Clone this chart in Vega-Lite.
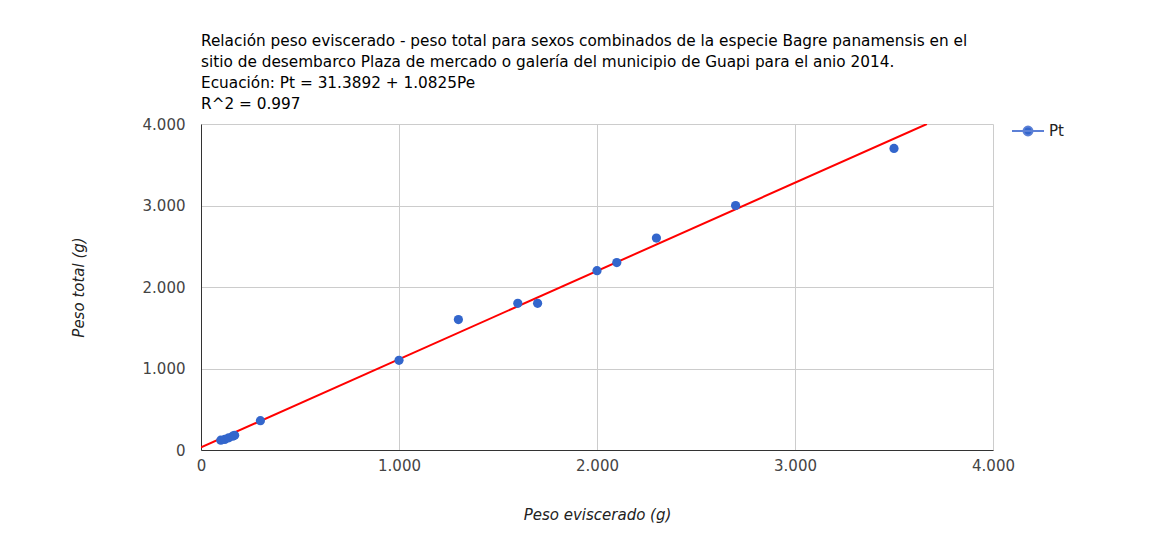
{
  "$schema": "https://vega.github.io/schema/vega-lite/v6.json",
  "autosize": {"type": "none"},
  "width": 792,
  "height": 326,
  "padding": {"left": 201, "top": 124, "right": 179, "bottom": 100},
  "background": "white",
  "title": {
    "text": [
      "Relación peso eviscerado - peso total para sexos combinados de la especie Bagre panamensis en el",
      "sitio de desembarco Plaza de mercado o galería del municipio de Guapi para el anio 2014.",
      "Ecuación: Pt = 31.3892 + 1.0825Pe",
      "R^2 = 0.997"
    ],
    "anchor": "start",
    "frame": "group",
    "font": "DejaVu Sans",
    "fontSize": 15.3,
    "fontWeight": "normal",
    "lineHeight": 21,
    "color": "#000000",
    "offset": 2
  },
  "datasets": {
    "points": [
      {"Pe": 100, "Pt": 120, "serie": "Pt"},
      {"Pe": 120, "Pt": 130, "serie": "Pt"},
      {"Pe": 140, "Pt": 150, "serie": "Pt"},
      {"Pe": 160, "Pt": 170, "serie": "Pt"},
      {"Pe": 170, "Pt": 180, "serie": "Pt"},
      {"Pe": 300, "Pt": 360, "serie": "Pt"},
      {"Pe": 1000, "Pt": 1100, "serie": "Pt"},
      {"Pe": 1300, "Pt": 1600, "serie": "Pt"},
      {"Pe": 1600, "Pt": 1800, "serie": "Pt"},
      {"Pe": 1700, "Pt": 1800, "serie": "Pt"},
      {"Pe": 2000, "Pt": 2200, "serie": "Pt"},
      {"Pe": 2100, "Pt": 2300, "serie": "Pt"},
      {"Pe": 2300, "Pt": 2600, "serie": "Pt"},
      {"Pe": 2700, "Pt": 3000, "serie": "Pt"},
      {"Pe": 3500, "Pt": 3700, "serie": "Pt"}
    ],
    "trend": [
      {"Pe": 0, "Pt": 31.3892},
      {"Pe": 3666, "Pt": 4000}
    ]
  },
  "layer": [
    {
      "data": {"name": "trend"},
      "mark": {"type": "line", "color": "#ff0000", "strokeWidth": 2, "clip": true},
      "encoding": {
        "x": {"field": "Pe", "type": "quantitative"},
        "y": {"field": "Pt", "type": "quantitative"}
      }
    },
    {
      "data": {"name": "points"},
      "mark": {"type": "point", "filled": true, "size": 85, "opacity": 1},
      "encoding": {
        "x": {
          "field": "Pe",
          "type": "quantitative",
          "scale": {"domain": [0, 4000], "nice": false},
          "axis": {
            "title": "Peso eviscerado (g)",
            "values": [0, 1000, 2000, 3000, 4000],
            "labelExpr": "replace(format(datum.value, ','), ',', '.')"
          }
        },
        "y": {
          "field": "Pt",
          "type": "quantitative",
          "scale": {"domain": [0, 4000], "nice": false},
          "axis": {
            "title": "Peso total (g)",
            "values": [0, 1000, 2000, 3000, 4000],
            "labelExpr": "replace(format(datum.value, ','), ',', '.')",
            "titlePadding": 56,
            "labelPadding": 16
          }
        },
        "color": {
          "field": "serie",
          "type": "nominal",
          "scale": {"domain": ["Pt"], "range": ["#3366cc"]},
          "legend": {
            "title": null,
            "orient": "none",
            "legendX": 810,
            "legendY": -10,
            "symbolType": "M-1,0L1,0M0.28,0A0.28,0.28,0,1,1,-0.28,0A0.28,0.28,0,1,1,0.28,0Z",
            "symbolSize": 1024,
            "symbolStrokeColor": "#5c80d6",
            "symbolStrokeWidth": 2,
            "symbolFillColor": "#3366cc",
            "labelFont": "DejaVu Sans",
            "labelFontSize": 15,
            "labelColor": "#222222",
            "labelOffset": 4
          }
        }
      }
    }
  ],
  "config": {
    "view": {"stroke": null},
    "axis": {
      "labelFont": "DejaVu Sans",
      "labelFontSize": 15,
      "labelColor": "#444444",
      "labelFlush": false,
      "titleFont": "DejaVu Sans",
      "titleFontSize": 15,
      "titleFontStyle": "italic",
      "titleFontWeight": "normal",
      "titleColor": "#222222",
      "gridColor": "#cccccc",
      "gridOpacity": 1,
      "domainColor": "#333333",
      "domainWidth": 1,
      "ticks": false
    },
    "axisX": {"labelPadding": 8, "titlePadding": 34}
  }
}
